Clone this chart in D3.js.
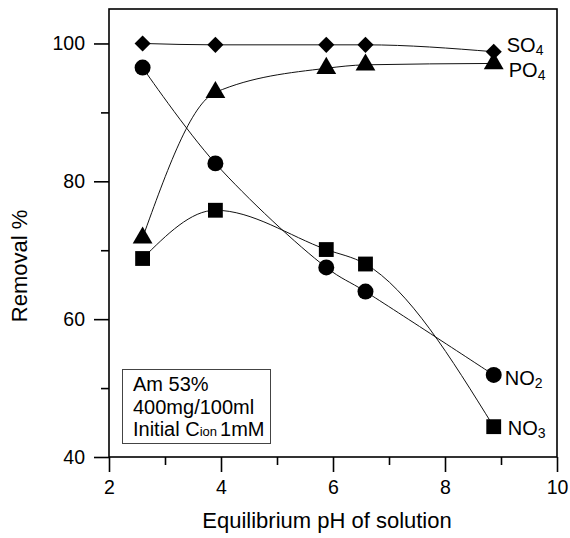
<!DOCTYPE html>
<html lang="en">
  <head>
    <style>
      body { margin: 0; background: #fff; }
      text { font-family: "Liberation Sans", Arial, sans-serif; fill: #000; }
      .curve { fill: none; stroke: #111; stroke-width: 1; }
    </style>
  </head>
  <body>
    <svg id="container" width="570" height="538"></svg>
  </body>
  <script src="https://d3js.org/d3.v7.min.js"></script>
  <script>
// data
let phValues = [2.6, 3.9, 5.88, 6.58, 8.87]
let so4 = [100, 99.8, 99.8, 99.8, 98.8]
let po4 = [71.8, 92.9, 96.4, 96.9, 97.1]
let no2 = [96.5, 82.6, 67.5, 64.0, 51.9]
let no3 = [68.8, 75.8, 70.1, 68.0, 44.4]
let xTicks = [2, 4, 6, 8, 10]
let xMinor = [3, 5, 7, 9]
let yTicks = [40, 60, 80, 100]
let yMinor = [50, 70, 90]
let noteLines = ["Am 53%", "400mg/100ml", "Initial C|ion|1mM"]

let svg = d3.select("#container")
let plotLeft = 109, plotRight = 557, plotTop = 9, plotBottom = 457

let x = d3.scaleLinear().domain([2, 10]).range([plotLeft, plotRight])
let y = d3.scaleLinear().domain([40, 105]).range([plotBottom, plotTop])

// frame
svg.append("rect")
    .attr("x", plotLeft).attr("y", plotTop)
    .attr("width", plotRight - plotLeft).attr("height", plotBottom - plotTop)
    .attr("fill", "none").attr("stroke", "#000").attr("stroke-width", 1.6)

// axes
svg.append("g").attr("transform", `translate(0,${plotBottom})`)
    .call(d3.axisBottom(x).tickValues(xTicks).tickSize(15).tickPadding(8).tickSizeOuter(0))
svg.append("g").attr("transform", `translate(0,${plotBottom})`)
    .call(d3.axisBottom(x).tickValues(xMinor).tickSize(8).tickFormat("").tickSizeOuter(0))
svg.append("g").attr("transform", `translate(${plotLeft},0)`)
    .call(d3.axisLeft(y).tickValues(yTicks).tickSize(15).tickPadding(9).tickSizeOuter(0))
svg.append("g").attr("transform", `translate(${plotLeft},0)`)
    .call(d3.axisLeft(y).tickValues(yMinor).tickSize(8).tickFormat("").tickSizeOuter(0))

svg.selectAll(".domain").remove()
svg.selectAll(".tick line").attr("stroke", "#000").attr("stroke-width", 1.6)
svg.selectAll(".tick text").attr("font-size", 19.5).attr("font-family", "Liberation Sans, Arial, sans-serif")

// axis titles
svg.append("text")
    .attr("x", 327).attr("y", 528)
    .attr("text-anchor", "middle").attr("font-size", 22)
    .text("Equilibrium pH of solution")
svg.append("text")
    .attr("transform", "translate(27,266) rotate(-90)")
    .attr("text-anchor", "middle").attr("font-size", 22)
    .text("Removal %")

let seriesList = [
    { name: "SO", sub: "4", values: so4, symbol: d3.symbolSquare, rot: 45, size: 130, curve: d3.curveMonotoneX, dx: 13, dy: 0 },
    { name: "PO", sub: "4", values: po4, symbol: d3.symbolTriangle, rot: 0, size: 170, curve: d3.curveMonotoneX, dx: 15, dy: 14 },
    { name: "NO", sub: "2", values: no2, symbol: d3.symbolCircle, rot: 0, size: 200, curve: d3.curveCatmullRom, dx: 11, dy: 10 },
    { name: "NO", sub: "3", values: no3, symbol: d3.symbolSquare, rot: 0, size: 220, curve: d3.curveMonotoneX, dx: 14, dy: 8 }
]

seriesList.forEach(s => {
    let pts = phValues.map((p, i) => [p, s.values[i]])
    let line = d3.line().x(d => x(d[0])).y(d => y(d[1])).curve(s.curve)
    svg.append("path").attr("class", "curve").attr("d", line(pts))
})

seriesList.forEach(s => {
    let pts = phValues.map((p, i) => [p, s.values[i]])
    svg.append("g").selectAll("path")
        .data(pts)
        .enter()
        .append("path")
            .attr("d", d3.symbol().type(s.symbol).size(s.size))
            .attr("transform", d => `translate(${x(d[0])},${y(d[1])}) rotate(${s.rot})`)
            .attr("fill", "#000")

    let last = pts[pts.length - 1]
    let label = svg.append("text")
        .attr("x", x(last[0]) + s.dx)
        .attr("y", y(last[1]) + s.dy)
        .attr("font-size", 20)
    label.append("tspan").text(s.name)
    label.append("tspan").attr("font-size", 14).attr("dy", 3).text(s.sub)
})

// note box
let note = svg.append("g")
note.append("rect")
    .attr("x", 122.5).attr("y", 369.5).attr("width", 148).attr("height", 74)
    .attr("fill", "#fff").attr("stroke", "#444").attr("stroke-width", 1)
noteLines.forEach((t, i) => {
    let txt = note.append("text").attr("x", 133).attr("y", 391 + i * 22.5).attr("font-size", 20)
    let parts = t.split("|")
    txt.append("tspan").text(parts[0])
    if (parts.length > 1) {
        txt.append("tspan").attr("font-size", 13).text(parts[1])
        txt.append("tspan").attr("font-size", 20).attr("dx", 3).text(parts[2])
    }
})
  </script>
</html>
